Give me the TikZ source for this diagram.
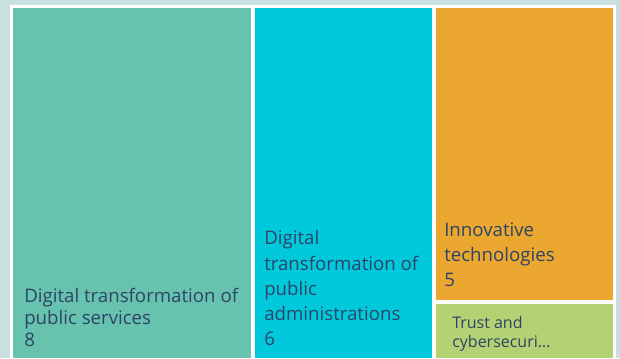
\documentclass[tikz,border=0pt]{standalone}
\usepackage{fontspec}
\setmainfont{Open Sans}
\usepackage{tikz}
\usetikzlibrary{positioning}
\definecolor{bgcol}{HTML}{CADFDF}
\definecolor{servicecol}{HTML}{67C3AE}
\definecolor{admincol}{HTML}{00C9DC}
\definecolor{techcol}{HTML}{EBA730}
\definecolor{trustcol}{HTML}{B4D173}
\definecolor{labelcol}{HTML}{2D4466}
\tikzset{
  tile/.style={fill=#1, draw=none},
  lbl/.style={anchor=north west, inner sep=0pt, align=left, text=labelcol,
    font=\fontsize{14}{16.5}\selectfont},
  lblwide/.style={lbl, font=\fontsize{14}{18.9}\selectfont},
  lblsmall/.style={lbl, font=\fontsize{12}{14.3}\selectfont}
}
\begin{document}
\begin{tikzpicture}[x=0.75pt,y=0.75pt,yscale=-1,xscale=1]
        \useasboundingbox (0,0) rectangle (620,358);
        %Background
        \fill [bgcol] (0,0) rectangle (620,358);
        \fill [white] (10,5) rectangle (616,358);
        %Tiles
        \fill [tile=servicecol] (13,8) rectangle (251,358);
        \fill [tile=admincol] (255,8) rectangle (432,358);
        \fill [tile=techcol] (436,8) rectangle (613,300);
        \fill [tile=trustcol] (436,304) rectangle (613,358);
        % Text Node
        \node (services) [lbl] at (24,287.5) {Digital transformation of\\public services\\8};
        % Text Node
        \node (admin) [lblwide] at (264,230.5) {Digital\\transformation of\\public\\administrations\\6};
        % Text Node
        \node (tech) [lblwide] at (444,222.5) {Innovative\\technologies\\5};
        % Text Node
        \node (trust) [lblsmall] at (452,316.5) {Trust and\\cybersecuri\dots};
\end{tikzpicture}
\end{document}
